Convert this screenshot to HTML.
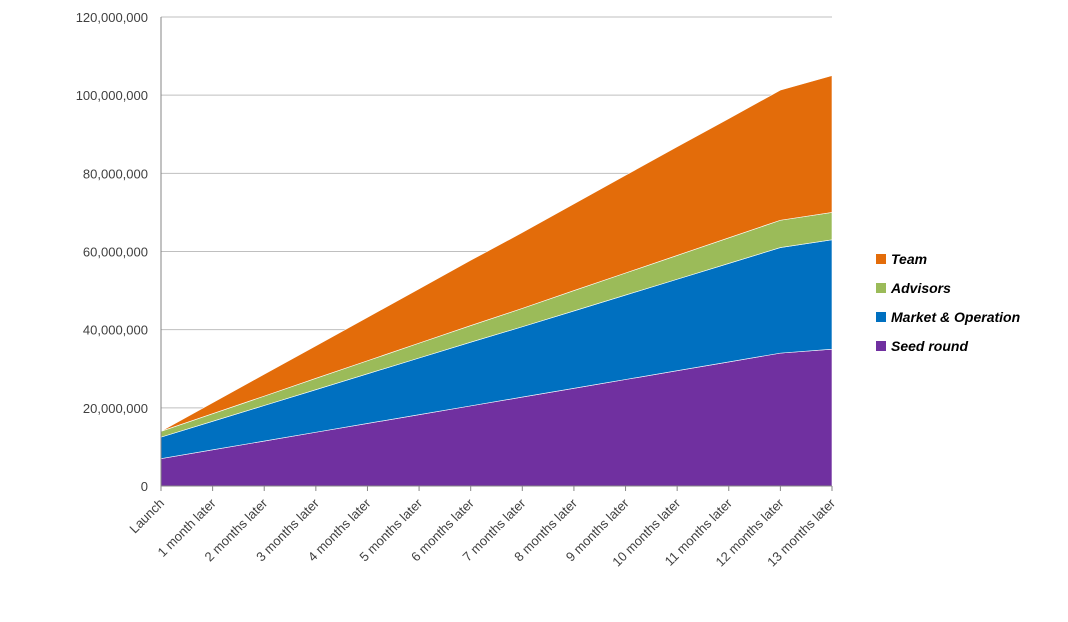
<!DOCTYPE html>
<html><head><meta charset="utf-8"><style>
html,body{margin:0;padding:0;background:#fff;}
svg{display:block;font-family:"Liberation Sans",sans-serif;}
</style></head><body>
<svg id="chart" width="1068" height="622" viewBox="0 0 1068 622"></svg>
<script>
const categories=["Launch","1 month later","2 months later","3 months later","4 months later","5 months later","6 months later","7 months later","8 months later","9 months later","10 months later","11 months later","12 months later","13 months later"];
const seedRound=[7,9.25,11.5,13.75,16,18.25,20.5,22.75,25,27.25,29.5,31.75,34,35];
const marketOperation=[5.5,7.3,9.1,10.9,12.7,14.5,16.3,18,19.8,21.6,23.4,25.2,27,28];
const advisors=[1.5,1.95,2.4,2.9,3.35,3.8,4.25,4.7,5.2,5.65,6.1,6.55,7,7];
const team=[0,2.8,5.6,8.3,11.1,13.9,16.7,19.4,22.2,25,27.8,30.5,33.3,35];
const yTicks=[0,20,40,60,80,100,120];
const yTickLabels=["0","20,000,000","40,000,000","60,000,000","80,000,000","100,000,000","120,000,000"];
const seriesNames=["Seed round","Market & Operation","Advisors","Team"];
const seriesColors=["#7030a0","#0070c0","#9bbb59","#e36c0a"];

const svg=document.getElementById('chart');
const NS="http://www.w3.org/2000/svg";
const X0=161,X1=832,Y0=486,Y1=17;
const x=i=>X0+i*(X1-X0)/(categories.length-1);
const y=v=>Y0-v*(Y0-Y1)/120;
function mk(t,a){const e=document.createElementNS(NS,t);for(const k in a)e.setAttribute(k,a[k]);svg.appendChild(e);return e;}

yTicks.forEach((v,i)=>{
  const g=mk('line',{x1:X0,x2:X1,y1:y(v),y2:y(v),stroke:i===0?'#868686':'#bfbfbf','stroke-width':1});
  
  
  const t=mk('text',{x:148,y:y(v)+5,'text-anchor':'end','font-size':13,fill:'#404040'});
  t.textContent=yTickLabels[i];
  
  
});

const layers=[seedRound,marketOperation,advisors,team];
let base=categories.map(()=>0);
layers.forEach((arr,li)=>{
  const top=base.map((b,i)=>b+arr[i]);
  let d='M'+top.map((v,i)=>x(i)+','+y(v)).join('L');
  for(let i=categories.length-1;i>=0;i--)d+='L'+x(i)+','+y(base[i]);
  d+='Z';
  const p=mk('path',{d:d,fill:seriesColors[li],stroke:'#fff','stroke-width':0.6});
  
  
  base=top;
});

const ax=mk('line',{x1:X0,x2:X0,y1:Y1,y2:Y0,stroke:'#868686','stroke-width':1});


const bx=mk('line',{x1:X0,x2:X1,y1:Y0,y2:Y0,stroke:'#868686','stroke-width':1});



categories.forEach((c,i)=>{
  const tk=mk('line',{x1:x(i),x2:x(i),y1:Y0,y2:Y0+5,stroke:'#868686'});
  
  
  const t=mk('text',{x:x(i)+4,y:Y0+18,'text-anchor':'end','font-size':13,fill:'#404040',transform:'rotate(-45 '+(x(i)+4)+' '+(Y0+18)+')'});
  t.textContent=c;
  
  
});

[3,2,1,0].forEach((li,k)=>{
  const yy=259+k*29;
  const r=mk('rect',{x:876,y:yy-5,width:10,height:10,fill:seriesColors[li]});
  
  
  const t=mk('text',{x:891,y:yy+5,'font-size':14,'font-weight':'bold','font-style':'italic',fill:'#000'});
  t.textContent=seriesNames[li];
  
  
});
</script>
</body></html>
